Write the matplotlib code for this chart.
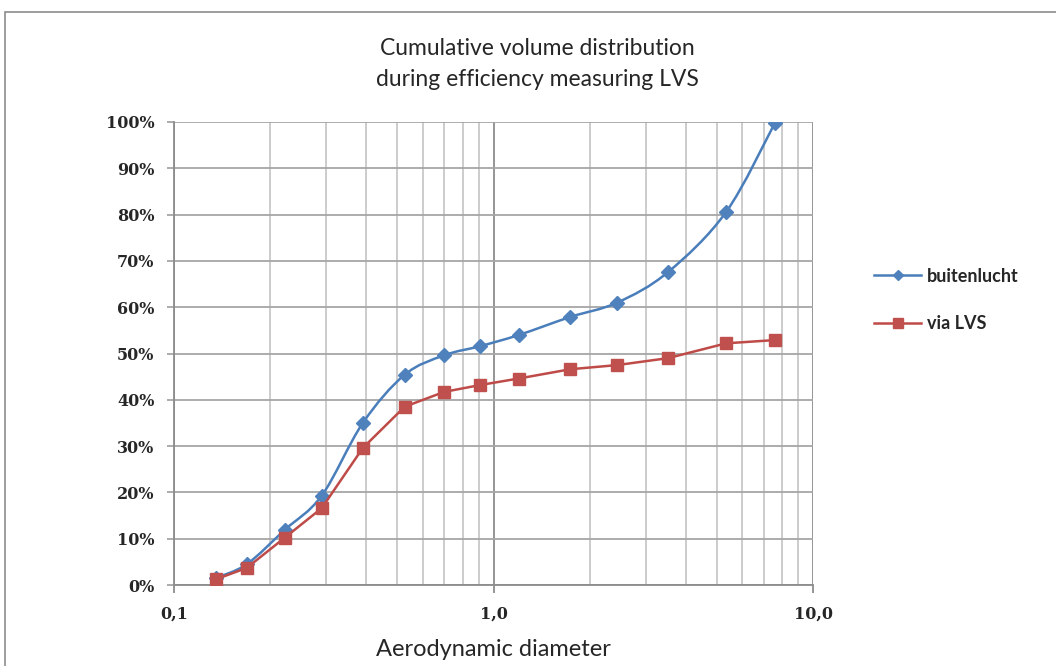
import numpy as np
import matplotlib
matplotlib.use("Agg")
import matplotlib.pyplot as plt
from matplotlib.path import Path
from matplotlib.patches import PathPatch, Rectangle
from matplotlib.ticker import PercentFormatter, FixedLocator, FixedFormatter, LogLocator, NullFormatter

# data
diameter = [0.135, 0.169, 0.222, 0.290, 0.390, 0.527, 0.700, 0.910, 1.20, 1.74, 2.44, 3.52, 5.35, 7.60]
buitenlucht = [0.015, 0.045, 0.119, 0.193, 0.350, 0.454, 0.496, 0.516, 0.540, 0.579, 0.610, 0.676, 0.806, 0.998]
via_lvs = [0.012, 0.037, 0.102, 0.166, 0.296, 0.385, 0.417, 0.432, 0.446, 0.466, 0.475, 0.490, 0.522, 0.529]

title = "Cumulative volume distribution\nduring efficiency measuring LVS"
xlabel = "Aerodynamic diameter"
xticks = [0.1, 1.0, 10.0]
xticklabels = ["0,1", "1,0", "10,0"]

blue = "#4a7ebb"
blue_m = "#4f81bd"
red = "#be4b48"
red_m = "#c0504d"


def smooth_path(xs, ys):
    # Excel style smoothed line: Catmull-Rom segments as cubic Bezier in log-x space
    u = np.log10(xs)
    y = np.asarray(ys)
    pts = np.column_stack([u, y])
    n = len(pts)
    verts = [pts[0]]
    codes = [Path.MOVETO]
    for i in range(n - 1):
        p0 = pts[max(i - 1, 0)]
        p1 = pts[i]
        p2 = pts[i + 1]
        p3 = pts[min(i + 2, n - 1)]
        c1 = p1 + (p2 - p0) / 6.0
        c2 = p2 - (p3 - p1) / 6.0
        verts += [c1, c2, p2]
        codes += [Path.CURVE4] * 3
    verts = np.array(verts)
    verts[:, 0] = 10 ** verts[:, 0]
    return Path(verts, codes)


fig = plt.figure(figsize=(10.56, 6.66), dpi=100)
fig.patch.set_facecolor("white")

# outer chart frame
fig.patches.append(Rectangle((5 / 1056, -0.1), 1.2, 1 - 12 / 666 + 0.1,
                             transform=fig.transFigure, fill=False,
                             edgecolor="#8c8c8c", lw=1.2))

ax = fig.add_axes([174 / 1056, 1 - 585 / 666, (813 - 174) / 1056, (585 - 122) / 666])
ax.set_xscale("log")
ax.set_xlim(0.1, 10)
ax.set_ylim(0, 1.0)

# grid
ax.xaxis.set_minor_locator(LogLocator(base=10, subs=np.arange(2, 10)))
ax.xaxis.set_minor_formatter(NullFormatter())
ax.grid(True, which="minor", axis="x", color="#c8c8c8", lw=1.3)
ax.grid(True, which="major", axis="x", color="#8c8c8c", lw=1.3)
ax.grid(True, which="major", axis="y", color="#a6a6a6", lw=1.3)
ax.set_axisbelow(True)

ax.xaxis.set_major_locator(FixedLocator(xticks))
ax.xaxis.set_major_formatter(FixedFormatter(xticklabels))
ax.set_yticks(np.arange(0, 1.01, 0.1))
ax.yaxis.set_major_formatter(PercentFormatter(1.0, decimals=0))

for s in ["top", "right"]:
    ax.spines[s].set_visible(False)
for s in ["left", "bottom"]:
    ax.spines[s].set_color("#8c8c8c")
    ax.spines[s].set_linewidth(1.3)

ax.tick_params(axis="x", which="major", length=6, color="#8c8c8c", width=1.3, pad=9)
ax.tick_params(axis="x", which="minor", length=0)
ax.tick_params(axis="y", length=5, color="#a6a6a6", width=1.3, pad=9)
for lab in ax.get_xticklabels() + ax.get_yticklabels():
    lab.set_fontfamily("DejaVu Serif")
    lab.set_fontweight("bold")
    lab.set_fontsize(11.5)
    lab.set_color("#262626")

# series
ax.add_patch(PathPatch(smooth_path(diameter, buitenlucht), facecolor="none",
                       edgecolor=blue, lw=1.8, transform=ax.transData, zorder=3))
ax.plot(diameter, buitenlucht, ls="none", marker="D", ms=7.5, color=blue_m, zorder=4)
ax.plot(diameter, via_lvs, color=red, lw=1.8, marker="s", ms=8.5,
        markerfacecolor=red_m, markeredgecolor=red_m, zorder=4)

fig.text(537 / 1056, 1 - 64 / 666, title, ha="center", va="center",
         fontfamily="Lato", fontsize=16.5, color="#262626", linespacing=1.6)
fig.text(493 / 1056, 1 - 650 / 666, xlabel, ha="center", va="center",
         fontfamily="Lato", fontsize=17, color="#262626")

h1, = ax.plot([], [], color=blue, lw=1.8, marker="D", ms=5, markerfacecolor=blue_m,
              markeredgecolor=blue_m)
h2, = ax.plot([], [], color=red, lw=1.8, marker="s", ms=7, markerfacecolor=red_m,
              markeredgecolor=red_m)
leg = fig.legend([h1, h2], ["buitenlucht", "via LVS"], loc="center left",
                 bbox_to_anchor=(858 / 1056, 1 - 300 / 666), frameon=False,
                 labelspacing=1.7, handlelength=2.6, handletextpad=0.3,
                 prop={"family": "Lato", "weight": "bold", "size": 13})
for t in leg.get_texts():
    t.set_color("#262626")

fig.savefig("out.png", dpi=100, facecolor="white")
